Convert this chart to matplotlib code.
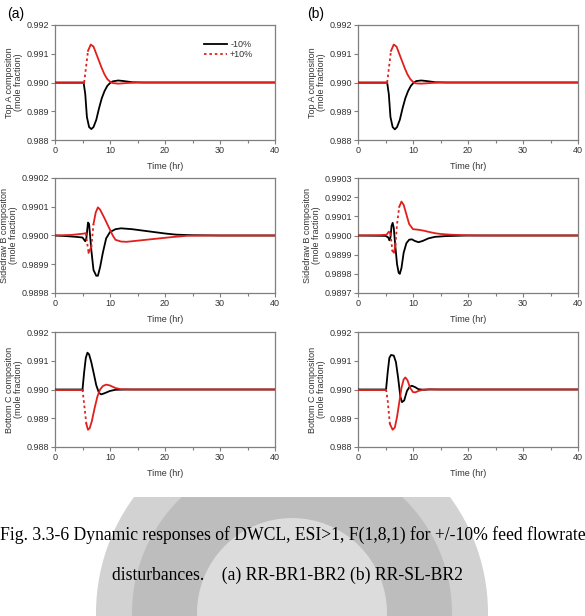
import matplotlib
matplotlib.use("Agg")
import matplotlib.pyplot as plt
from matplotlib.patches import Circle, Rectangle
from matplotlib.lines import Line2D
import numpy as np

# ---- data ----
# (a) top A composition
a_top_neg_t = [0, 5.2, 5.5, 5.8, 6.2, 6.6, 7.0, 7.5, 8.0, 8.5, 9.0, 9.5, 10.0, 10.5, 11.5, 12.5, 14, 16, 40]
a_top_neg_y = [0.99, 0.99, 0.9896, 0.9888, 0.98845, 0.98838, 0.98845, 0.9887, 0.9891, 0.98945, 0.9897, 0.98988,
               0.98998, 0.99004, 0.99007, 0.99005, 0.99001, 0.99, 0.99]
a_top_pos_t = [0, 5.3, 6.0, 6.5, 7.0, 7.5, 8.0, 8.5, 9.0, 9.5, 10.0, 10.5, 11.5, 13, 15, 40]
a_top_pos_y = [0.99, 0.99, 0.9911, 0.99132, 0.99125, 0.9910, 0.99075, 0.9905, 0.99028, 0.99012, 0.99003,
               0.98998, 0.98996, 0.98998, 0.99, 0.99]

# (a) sidedraw B composition
a_mid_neg_t = [0, 2, 4, 5, 5.5, 5.7, 6.0, 6.2, 6.6, 7.0, 7.5, 7.8, 8.2, 8.7, 9.3, 10, 11, 12, 14, 16, 18, 20, 22, 25,
               30, 40]
a_mid_neg_y = [0.99, 0.989998, 0.989995, 0.989993, 0.98998, 0.98999, 0.990045, 0.99004, 0.98995, 0.98988, 0.98986,
               0.98986, 0.98989, 0.98994, 0.98999, 0.990012, 0.990022, 0.990025, 0.990022, 0.990017, 0.990012,
               0.990007, 0.990003, 0.990001, 0.99, 0.99]
a_mid_pos_t = [0, 3, 5, 5.6, 6.1, 6.6, 7.0, 7.4, 7.8, 8.2, 9, 10, 10.5, 11, 12, 13, 15, 18, 21, 24, 28, 40]
a_mid_pos_y = [0.99, 0.990002, 0.990006, 0.990008, 0.98994, 0.98996, 0.99004, 0.99008, 0.990098, 0.99009, 0.99006,
               0.99002, 0.99, 0.989985, 0.989979, 0.989978, 0.989982, 0.989988, 0.989994, 0.989999, 0.99, 0.99]

# (a) bottom C composition
a_bot_neg_t = [0, 5.0, 5.3, 5.6, 5.9, 6.2, 6.6, 7.0, 7.5, 8.0, 8.4, 9, 10, 11, 13, 40]
a_bot_neg_y = [0.99, 0.99, 0.9906, 0.9911, 0.99128, 0.99122, 0.99095, 0.9906, 0.99015, 0.98988, 0.98983, 0.98987,
               0.98995, 0.98999, 0.99, 0.99]
a_bot_pos_t = [0, 5.0, 5.35, 5.7, 6.0, 6.3, 6.7, 7.2, 7.7, 8.2, 8.7, 9.3, 10, 11, 12, 14, 40]
a_bot_pos_y = [0.99, 0.99, 0.9894, 0.9888, 0.9886, 0.98865, 0.9889, 0.98935, 0.98975, 0.99, 0.99012, 0.99017,
               0.99014, 0.99005, 0.99001, 0.99, 0.99]

# (b) top A composition
b_top_neg_t = [0, 5.3, 5.6, 5.9, 6.3, 6.7, 7.1, 7.6, 8.1, 8.6, 9.1, 9.6, 10.1, 10.6, 11.5, 12.5, 14, 16, 40]
b_top_neg_y = [0.99, 0.99, 0.9896, 0.9888, 0.98845, 0.98837, 0.98845, 0.9887, 0.9891, 0.98945, 0.9897, 0.98988,
               0.98999, 0.99005, 0.99007, 0.99005, 0.99001, 0.99, 0.99]
b_top_pos_t = [0, 5.3, 6.0, 6.5, 7.0, 7.5, 8.0, 8.5, 9.0, 9.5, 10.0, 10.5, 11.5, 13, 15, 40]
b_top_pos_y = [0.99, 0.99, 0.9911, 0.99132, 0.99125, 0.9910, 0.99075, 0.9905, 0.99028, 0.99012, 0.99002,
               0.98997, 0.98996, 0.98998, 0.99, 0.99]

# (b) sidedraw B composition
b_mid_neg_t = [0, 5.0, 5.5, 5.7, 5.9, 6.1, 6.3, 6.5, 6.8, 7.1, 7.4, 7.6, 7.9, 8.3, 8.8, 9.3, 9.8, 10.3, 11, 11.8,
               12.8, 14, 16, 20, 40]
b_mid_neg_y = [0.99, 0.989998, 0.98999, 0.989975, 0.98999, 0.99005, 0.990066, 0.99004, 0.98994, 0.98985, 0.989805,
               0.9898, 0.98983, 0.98991, 0.98996, 0.989978, 0.98998, 0.989972, 0.989965, 0.989972, 0.989985,
               0.989993, 0.989997, 0.99, 0.99]
b_mid_pos_t = [0, 4, 5.2, 5.6, 5.9, 6.25, 6.55, 6.8, 7.1, 7.5, 7.9, 8.3, 8.8, 9.3, 10, 11, 12, 13, 14, 15, 17, 20,
               23, 40]
b_mid_pos_y = [0.99, 0.990002, 0.990004, 0.99002, 0.99001, 0.98992, 0.98991, 0.98995, 0.99006, 0.99015, 0.990177,
               0.99016, 0.99011, 0.99006, 0.990033, 0.99003, 0.990025, 0.990018, 0.990012, 0.990008, 0.990004,
               0.990001, 0.99, 0.99]

# (b) bottom C composition
b_bot_neg_t = [0, 5.1, 5.4, 5.7, 6.0, 6.5, 6.9, 7.3, 7.7, 8.0, 8.4, 8.9, 9.4, 9.8, 10.4, 11, 12, 13, 15, 40]
b_bot_neg_y = [0.99, 0.99, 0.9906, 0.9911, 0.9912, 0.99118, 0.99095, 0.9904, 0.98975, 0.98956, 0.98962, 0.98995,
               0.9901, 0.99013, 0.99008, 0.99001, 0.98999, 0.990005, 0.99, 0.99]
b_bot_pos_t = [0, 5.1, 5.4, 5.8, 6.3, 6.7, 7.1, 7.5, 7.9, 8.3, 8.6, 9.0, 9.5, 10.0, 10.4, 11, 12, 40]
b_bot_pos_y = [0.99, 0.99, 0.9896, 0.9888, 0.9886, 0.98868, 0.98905, 0.98955, 0.99005, 0.99035, 0.99042, 0.99032,
               0.99005, 0.98991, 0.9899, 0.98995, 0.99, 0.99]

panels = [
    # (row, col, neg_t, neg_y, pos_t, pos_y, ylim, yticks, fmt, ylabel)
    (0, 0, a_top_neg_t, a_top_neg_y, a_top_pos_t, a_top_pos_y, (0.988, 0.992), [0.988, 0.989, 0.990, 0.991, 0.992],
     "{:.3f}", "Top A compositon\n(mole fraction)"),
    (1, 0, a_mid_neg_t, a_mid_neg_y, a_mid_pos_t, a_mid_pos_y, (0.9898, 0.9902),
     [0.9898, 0.9899, 0.9900, 0.9901, 0.9902], "{:.4f}", "Sidedraw B compositon\n(mole fraction)"),
    (2, 0, a_bot_neg_t, a_bot_neg_y, a_bot_pos_t, a_bot_pos_y, (0.988, 0.992), [0.988, 0.989, 0.990, 0.991, 0.992],
     "{:.3f}", "Bottom C compositon\n(mole fraction)"),
    (0, 1, b_top_neg_t, b_top_neg_y, b_top_pos_t, b_top_pos_y, (0.988, 0.992), [0.988, 0.989, 0.990, 0.991, 0.992],
     "{:.3f}", "Top A compositon\n(mole fraction)"),
    (1, 1, b_mid_neg_t, b_mid_neg_y, b_mid_pos_t, b_mid_pos_y, (0.9897, 0.9903),
     [0.9897, 0.9898, 0.9899, 0.9900, 0.9901, 0.9902, 0.9903], "{:.4f}", "Sidedraw B compositon\n(mole fraction)"),
    (2, 1, b_bot_neg_t, b_bot_neg_y, b_bot_pos_t, b_bot_pos_y, (0.988, 0.992), [0.988, 0.989, 0.990, 0.991, 0.992],
     "{:.3f}", "Bottom C compositon\n(mole fraction)"),
]

W, H = 585, 616
fig = plt.figure(figsize=(W / 100, H / 100), dpi=100)
plt.rcParams['font.family'] = ['Liberation Sans', 'DejaVu Sans']

# faint university seal watermark behind the caption (cropped at its top)
clip = Rectangle((0, 0), W / 100, (H - 497) / 100, transform=fig.dpi_scale_trans, visible=False)
fig.patches.append(clip)
for r, c in [(1.96, '#d2d2d2'), (1.60, '#bdbdbd'), (0.95, '#dcdcdc')]:
    circ = Circle((2.92, 0.03), r, transform=fig.dpi_scale_trans, facecolor=c, edgecolor='none', zorder=0)
    circ.set_clip_path(clip)
    fig.patches.append(circ)

lefts = [55, 358]
tops = [25, 178, 332]
gray = '#7f7f7f'
txt = '#333333'
red = '#e0201c'


def draw_series(ax, t, y, color, dotted_steep):
    t = np.asarray(t)
    y = np.asarray(y)
    if not dotted_steep:
        ax.plot(t, y, color=color, lw=1.3, solid_capstyle='round', zorder=3)
        return
    # steep, sparsely sampled stretches come out dotted, as in the original plot
    pts = ax.transData.transform(np.column_stack([t, y]))
    dx = np.abs(np.diff(pts[:, 0]))
    dy = np.abs(np.diff(pts[:, 1]))
    steep = dy > 6.8 * dx
    i = 0
    while i < len(steep):
        j = i
        while j + 1 < len(steep) and steep[j + 1] == steep[i]:
            j += 1
        ls = (0, (1.4, 1.6)) if steep[i] else '-'
        ax.plot(t[i:j + 2], y[i:j + 2], color=color, lw=1.3, ls=ls, zorder=4)
        i = j + 1


for row, col, nt, ny, pt, py, ylim, yticks, fmt, ylabel in panels:
    l = lefts[col]
    top = tops[row]
    ax = fig.add_axes([l / W, 1 - (top + 115) / H, 220 / W, 115 / H])
    ax.set_xlim(0, 40)
    ax.set_ylim(*ylim)
    ax.set_xticks([0, 10, 20, 30, 40])
    ax.set_xticks([5, 15, 25, 35], minor=True)
    ax.set_yticks(yticks)
    ax.set_yticklabels([fmt.format(v) for v in yticks])
    for s in ax.spines.values():
        s.set_color(gray)
        s.set_linewidth(0.9)
    ax.tick_params(which='both', direction='out', color=gray, labelcolor=txt, labelsize=6.5, width=0.8,
                   top=False, right=False)
    ax.tick_params(which='major', length=3, pad=1.5)
    ax.tick_params(which='minor', length=1.8)
    ax.set_xlabel("Time (hr)", fontsize=6.5, color=txt, labelpad=5)
    ax.set_ylabel(ylabel, fontsize=6.5, color=txt, labelpad=2, linespacing=1.1)

    draw_series(ax, nt, ny, 'black', False)
    draw_series(ax, pt, py, red, True)

    if row == 0 and col == 0:
        handles = [Line2D([], [], color='black', lw=1.3),
                   Line2D([], [], color=red, lw=1.3, ls=(0, (1.4, 1.6)))]
        ax.legend(handles, ['-10%', '+10%'], loc='upper left', bbox_to_anchor=(0.64, 0.94), frameon=False,
                  fontsize=6.5, handlelength=2.6, handletextpad=0.3, labelspacing=0.15, labelcolor=txt)

fig.text(7 / W, 1 - 14 / H, "(a)", fontsize=10, va='center', ha='left')
fig.text(307 / W, 1 - 14 / H, "(b)", fontsize=10, va='center', ha='left')

fig.text(0.5, 1 - 535 / H,
         "Fig. 3.3-6 Dynamic responses of DWCL, ESI>1, F(1,8,1) for +/-10% feed flowrate",
         fontsize=12.7, family='Liberation Serif', ha='center', va='center', zorder=5)
fig.text(112 / W, 1 - 575 / H, "disturbances.    (a) RR-BR1-BR2 (b) RR-SL-BR2",
         fontsize=12.7, family='Liberation Serif', ha='left', va='center', zorder=5)

fig.savefig("out.png", dpi=100)
